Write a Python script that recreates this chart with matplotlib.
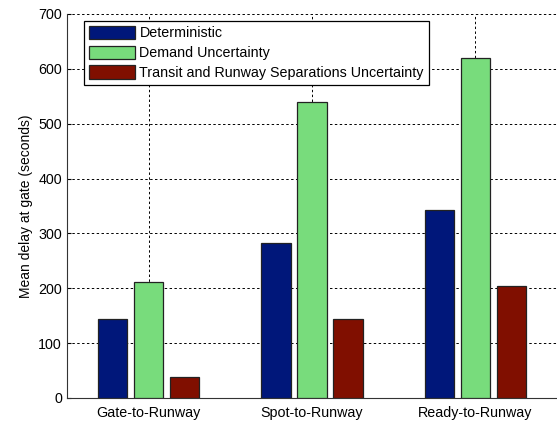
import matplotlib.pyplot as plt
import numpy as np

plt.rcParams['font.family'] = ['Liberation Sans', 'DejaVu Sans']

categories = ["Gate-to-Runway", "Spot-to-Runway", "Ready-to-Runway"]
series_names = ["Deterministic", "Demand Uncertainty",
                "Transit and Runway Separations Uncertainty"]
deterministic = [143, 282, 343]
demand = [212, 540, 620]
transit = [39, 143, 204]
colors = ["#00177a", "#78dc7c", "#800f00"]

fig = plt.figure(figsize=(5.57, 4.22), dpi=100)
ax = fig.add_axes([0.12, 0.057, 0.88, 0.91])

x = np.arange(1, len(categories) + 1)
offsets = [-0.22, 0.0, 0.22]
for vals, off, c, name in zip([deterministic, demand, transit], offsets, colors, series_names):
    ax.bar(x + off, vals, width=0.18, color=c, edgecolor='#222222', linewidth=0.9,
           label=name, zorder=3)

ax.set_xlim(0.5, 3.5)
ax.set_ylim(0, 700)
ax.set_xticks(x)
ax.set_xticklabels(categories, fontsize=10.3)
ax.set_yticks(range(0, 701, 100))
ax.tick_params(axis='y', labelsize=10.3, direction='in', length=3)
ax.tick_params(axis='x', direction='in', length=0, pad=6)
ax.set_ylabel("Mean delay at gate (seconds)", fontsize=10)

ax.grid(True, color='black', linestyle=(0, (2.5, 2.5)), linewidth=0.7, zorder=0)
ax.spines['top'].set_visible(False)
ax.spines['right'].set_visible(False)
ax.spines['left'].set_color('#333333')
ax.spines['bottom'].set_color('#333333')

leg = ax.legend(loc='upper left', bbox_to_anchor=(0.03, 0.99), fontsize=10.3,
                handlelength=3.2, handleheight=1.1, handletextpad=0.3,
                labelspacing=0.36, borderpad=0.35, borderaxespad=0.2,
                fancybox=False, framealpha=1)
leg.get_frame().set_edgecolor('black')
leg.get_frame().set_linewidth(0.9)

fig.savefig("out.png", dpi=100)
